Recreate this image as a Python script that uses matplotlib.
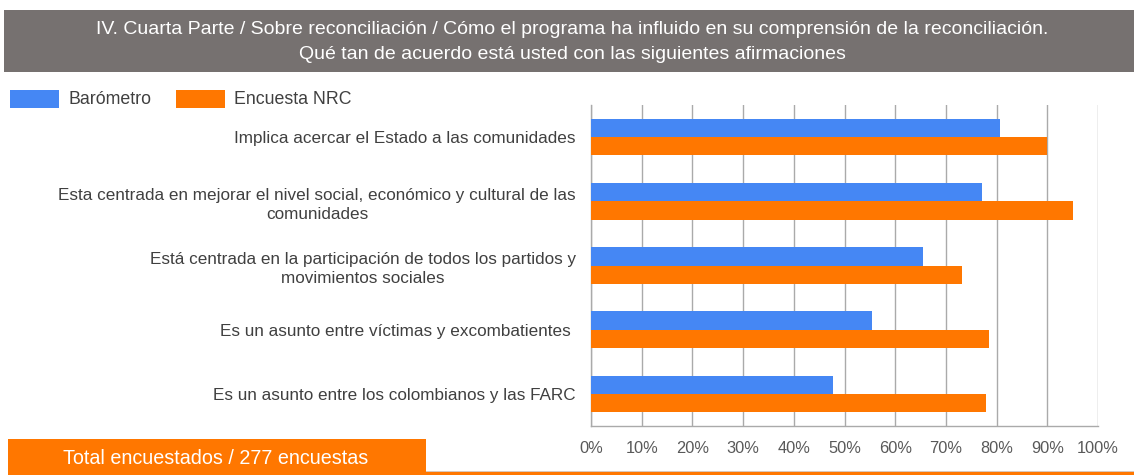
import matplotlib.pyplot as plt
import numpy as np
from matplotlib.patches import Rectangle

plt.rcParams["font.family"] = ["Liberation Sans", "DejaVu Sans"]

TITLE = ("IV. Cuarta Parte / Sobre reconciliación / Cómo el programa ha influido en su comprensión de la reconciliación.\n"
         "Qué tan de acuerdo está usted con las siguientes afirmaciones")
FOOTER = "Total encuestados / 277 encuestas"

categories = [
    "Implica acercar el Estado a las comunidades",
    "Esta centrada en mejorar el nivel social, económico y cultural de las\ncomunidades",
    "Está centrada en la participación de todos los partidos y\nmovimientos sociales",
    "Es un asunto entre víctimas y excombatientes ",
    "Es un asunto entre los colombianos y las FARC",
]
series_names = ["Barómetro", "Encuesta NRC"]
barometro = [80.6, 77.2, 65.4, 55.4, 47.8]
encuesta_nrc = [89.9, 95.0, 73.1, 78.5, 78.0]
x_ticks = [0, 10, 20, 30, 40, 50, 60, 70, 80, 90, 100]

BLUE = "#4587f4"
ORANGE = "#ff7700"
BANNER = "#767170"
TEXT = "#404040"

fig = plt.figure(figsize=(11.34, 4.75), dpi=100)
W, H = 1134, 475


def px(x, y):
    return x / W, 1 - y / H


# title banner
fig.patches.append(Rectangle(px(4, 72), 1130 / W, 62 / H, transform=fig.transFigure,
                             facecolor=BANNER, edgecolor="none"))
fig.text(*px(572, 42), TITLE, ha="center", va="center",
         color="white", fontsize=14, linespacing=1.6)

# legend
for name, col, x0 in zip(series_names, [BLUE, ORANGE], [10, 176]):
    fig.patches.append(Rectangle(px(x0, 108), 49 / W, 18 / H, transform=fig.transFigure,
                                 facecolor=col, edgecolor="none"))
    fig.text(*px(x0 + 58, 99), name, ha="left", va="center", color=TEXT, fontsize=12.8)

# footer box and line
fig.patches.append(Rectangle(px(8, 475), 418 / W, 36 / H, transform=fig.transFigure,
                             facecolor=ORANGE, edgecolor="none"))
fig.text(*px(216, 459), FOOTER, ha="center", va="center", color="white", fontsize=14.2)
fig.patches.append(Rectangle(px(426, 475), 708 / W, 3 / H, transform=fig.transFigure,
                             facecolor=ORANGE, edgecolor="none"))
fig.patches.append(Rectangle(px(426, 472), 708 / W, 1 / H, transform=fig.transFigure,
                             facecolor="#d9c8bd", edgecolor="none"))

ax = fig.add_axes([591 / W, 49 / H, 507 / W, 321 / H])
y = np.arange(len(categories))
h = 0.285
ax.barh(y - h / 2, barometro, height=h, color=BLUE, zorder=3)
ax.barh(y + h / 2, encuesta_nrc, height=h, color=ORANGE, zorder=3)
ax.set_ylim(len(categories) - 0.5, -0.5)
ax.set_xlim(0, 100)
ax.set_xticks(x_ticks)
ax.set_xticklabels([f"{t}%" for t in x_ticks], fontsize=11.8, color="#595959")
ax.set_yticks(y)
ax.set_yticklabels(categories, fontsize=12.3, color=TEXT, multialignment="center",
                   linespacing=1.35)
ax.tick_params(axis="x", length=0, pad=11)
ax.tick_params(axis="y", length=0, pad=11)
ax.grid(axis="x", color="#aaaaaa", lw=1.0, zorder=0)
for s in ["top", "right"]:
    ax.spines[s].set_visible(False)
for s in ["left", "bottom"]:
    ax.spines[s].set_color("#aaaaaa")
    ax.spines[s].set_linewidth(1.0)

fig.savefig("out.png", dpi=100)
